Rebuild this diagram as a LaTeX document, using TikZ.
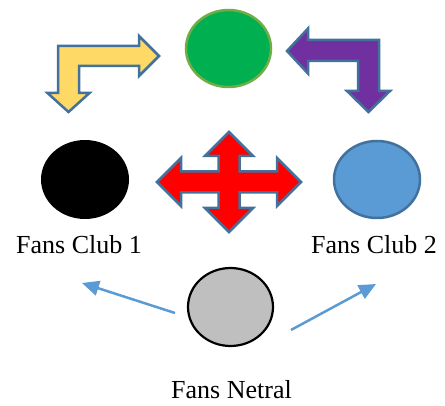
\documentclass[tikz,border=0pt]{standalone}
\usepackage{fontspec}
\setmainfont{Liberation Serif}
\usetikzlibrary{shapes.geometric,arrows.meta}
\definecolor{gfill}{HTML}{00B050}
\definecolor{gline}{HTML}{70AD47}
\definecolor{bfill}{HTML}{5B9BD5}
\definecolor{bline}{HTML}{41719C}
\definecolor{yfill}{HTML}{FFD966}
\definecolor{pfill}{HTML}{7030A0}
\definecolor{grfill}{HTML}{BFBFBF}
\tikzset{
  blob/.style={ellipse,inner sep=0pt,line width=2.5pt},
  shapearrow/.style={draw=bline,line width=2.5pt,line join=miter},
  lbl/.style={anchor=base west,inner sep=0pt,font=\fontsize{26}{30}\selectfont},
  flow/.style={draw=bfill,line width=2.5pt,-{Triangle[length=17pt,width=15pt]}}
}
\begin{document}
\begin{tikzpicture}[x=1pt,y=-1pt]
\useasboundingbox (0,0) rectangle (445,406);
% circles
\node[blob,draw=gline,fill=gfill,minimum width=85pt,minimum height=77pt] (green) at (228.5,48.5) {};
\node[blob,fill=black,minimum width=88pt,minimum height=79pt] (black) at (85,179.5) {};
\node[blob,draw=bline,fill=bfill,minimum width=86pt,minimum height=77pt] (blue) at (377,179.5) {};
\node[blob,draw=black,line width=2.2pt,fill=grfill,minimum width=85pt,minimum height=78pt] (gray) at (230.5,307) {};
% yellow bent arrow
\filldraw[shapearrow,fill=yfill] (58,46) -- (139,46) -- (139,36) -- (159,56) -- (139,76) -- (139,66)
  -- (79,66) -- (79,93) -- (89.5,93) -- (68.5,112) -- (47.5,93) -- (58,93) -- cycle;
% purple bent arrow
\filldraw[shapearrow,fill=pfill] (287,51) -- (308,28.5) -- (308,40) -- (379,40) -- (379,91) -- (390,91)
  -- (368.5,112) -- (347,91) -- (358,91) -- (358,61) -- (308,61) -- (308,73.5) -- cycle;
% red four-way arrow
\filldraw[shapearrow,fill=red] (229,132) -- (253,156) -- (239.5,156) -- (239.5,171.5) -- (277,171.5)
  -- (277,158) -- (301,182) -- (277,206) -- (277,192.5) -- (239.5,192.5) -- (239.5,208) -- (253,208)
  -- (229,232) -- (205,208) -- (218.5,208) -- (218.5,192.5) -- (181,192.5) -- (181,206) -- (157,182)
  -- (181,158) -- (181,171.5) -- (218.5,171.5) -- (218.5,156) -- (205,156) -- cycle;
% labels
\node[lbl] (l1) at (16,254) {Fans Club 1};
\node[lbl] (l2) at (311,254) {Fans Club 2};
\node[lbl] (l3) at (171,399) {Fans Netral};
% blue arrows
\coordinate (s1) at (175,313);
\coordinate (e1) at (82,283);
\coordinate (s2) at (291,330);
\coordinate (e2) at (376,284);
\draw[flow] (s1) -- (e1);
\draw[flow] (s2) -- (e2);
\end{tikzpicture}
\end{document}
